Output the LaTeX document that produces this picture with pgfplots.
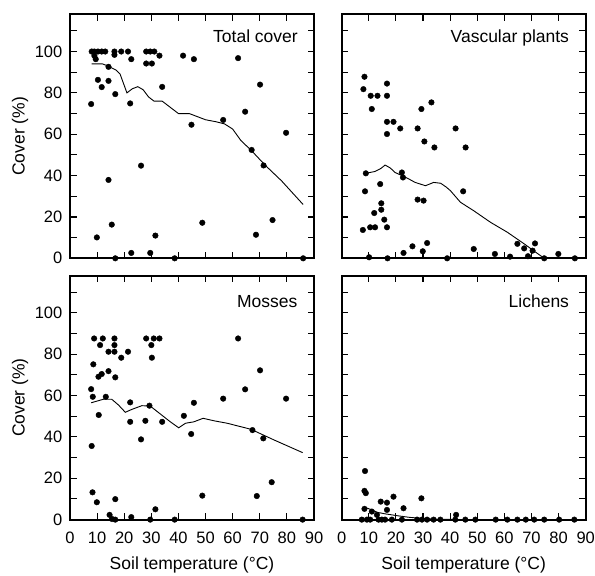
\documentclass[border=0pt]{standalone}
\usepackage{pgfplots}
\pgfplotsset{compat=1.18}
\usepgfplotslibrary{groupplots}
\usetikzlibrary{calc}
\usepackage{fontspec}
\setmainfont{Liberation Sans}
\tikzset{
  pts/.style={only marks, mark=*, mark size=2.8pt, black},
  fit/.style={no marks, black, line width=0.9pt},
  ttl/.style={font=\fontsize{17.5}{17.5}\selectfont, anchor=north east, inner sep=0pt},
}
\begin{document}
\begin{tikzpicture}
\begin{groupplot}[
  group style={group size=2 by 2, horizontal sep=27.7pt, vertical sep=17.3pt,
    xticklabels at=edge bottom, yticklabels at=edge left},
  scale only axis, width=244pt, height=244pt,
  xmin=0, xmax=90, ymin=0, ymax=118,
  xtick={0,10,...,90}, ytick={0,20,...,100}, minor ytick={10,30,...,110},
  tick align=inside, xtick pos=both, ytick pos=both,
  major tick length=6.5pt, minor tick length=6.5pt,
  every tick/.style={black, line width=1.1pt},
  axis line style={line width=1.8pt},
  tick label style={font=\fontsize{16.5}{16.5}\selectfont, inner sep=0pt},
  xticklabel style={anchor=north, yshift=-12pt},
  yticklabel style={anchor=east, xshift=-7.5pt},
  /pgf/number format/assume math mode=true,
  label style={font=\fontsize{17.5}{17.5}\selectfont, inner sep=0pt},
  xlabel style={at={(axis description cs:0.5,-0.1844)}, anchor=center},
  ylabel style={at={(axis description cs:-0.2049,0.5)}, anchor=center},
  clip=false,
]
% ---------------- Total cover
\nextgroupplot[ylabel={Cover (\%)}]
\addplot[pts] coordinates {
(8,100)(9,100)(10.3,100)(11.7,100)(13,100)(16.4,100)(18.9,100)(21.4,100)(28.1,100)(29.6,100)(31.1,100)(33,98)(41.7,98)
(9,97.9)(9.5,96.3)(16.4,98.4)(22.6,96.3)(28.1,94.2)(30.2,94.2)(45.7,96.3)(62,96.8)
(10.3,86.3)(14.2,85.8)(11.7,82.8)(14.2,92.6)(16.7,79.4)(7.8,74.6)(22.2,74.9)(34,82.9)(44.8,64.6)(70.1,84)(64.6,70.9)(56.5,66.9)(79.7,60.7)(67,52.4)(71.4,44.9)(14.2,37.9)(26.2,44.8)(9.9,10.1)(15.4,16.3)(31.5,11)(16.7,0)(22.6,2.6)(29.6,2.6)(38.6,0)(48.8,17.2)(74.7,18.5)(68.6,11.4)(86,0)
};
\addplot[fit] coordinates {
(8,94)(12,94)(14,93)(17,91)(18.5,89)(21,80)(23,82)(25,83)(27,81.5)(29,78)(31,76)(34,76)(37,73)(40,70)(42,70)(44,70)(47,68.5)(50,67)(54,66)(57,65)(60,62.5)(63,57)(67,52)(72,45)(78,37.5)(86,26)
};
\node[ttl] at (rel axis cs:1,1) [xshift=-16pt, yshift=-15.5pt] {Total cover};
% ---------------- Vascular plants
\nextgroupplot
\addplot[pts] coordinates {
(8.4,87.8)(8,81.8)(10.7,78.6)(13.2,78.6)(16.7,84.5)(16.7,78.6)(11.1,72.2)(33.1,75.4)(29.4,72.2)(16.7,66)(19.1,66)(21.6,62.8)(28,62.8)(16.7,60.1)(42,62.8)(30.5,56.5)(34.2,53.6)(8.9,41.1)(22.2,41.5)(22.6,39.1)(14.2,35.9)(8.6,32.4)(28,28.4)(30.2,27.9)(14.6,26.6)(14.6,23.5)(12,21.9)(15.7,18.7)(7.8,13.7)(10.5,15)(12.3,15)(16.7,15)(31.5,7.4)(26.1,5.8)(22.8,2.6)(29.9,3.4)(10.1,0.5)(16.9,0)(38.9,0)(45.7,53.6)(44.8,32.4)(48.7,4.5)(56.5,2.1)(62.1,0.8)(64.8,7)(67.3,4.8)(71.3,7.2)(70.4,3.7)(68.7,1)(74.7,0)(79.9,2.1)(86,0)
};
\addplot[fit] coordinates {
(8.9,41.1)(12.3,42)(14.5,43.5)(16,45.1)(17.9,43.7)(19.7,41.5)(22.2,40)(24.7,38.4)(27.1,36.7)(30.9,35.1)(33.9,36.7)(36.5,36.3)(38.5,34.5)(40.1,32.7)(43.8,27.1)(48.7,23)(54.9,17.4)(61.1,12.6)(67.3,7)(71.6,2.9)(74.7,0)
};
\node[ttl] at (rel axis cs:1,1) [xshift=-16.5pt, yshift=-15.5pt] {Vascular plants};
% ---------------- Mosses
\nextgroupplot[ylabel={Cover (\%)}, xlabel={Soil temperature (°C)}]
\addplot[pts] coordinates {
(8.9,87.6)(12.1,87.6)(16.4,87.6)(28.1,87.6)(30.9,87.6)(33,87.6)(11.1,84.4)(16.4,84.4)(30,84.4)(14.2,81.2)(16.4,81.2)(21.4,81.2)(18.9,78.3)(30.2,78.3)(8.6,75.1)(10.5,69.1)(11.7,70.4)(14.2,71.8)(16.7,68.8)(7.8,63.1)(62,87.6)(70.1,72.2)(64.6,63)(8.4,59.4)(13.2,59.4)(10.6,50.6)(22.2,56.7)(29.3,55.1)(22.2,47.3)(27.8,47.8)(26.2,38.8)(34,47.3)(42,50.2)(45.7,56.5)(44.7,41.4)(56.5,58.5)(67.3,43.3)(71.3,39.3)(79.7,58.5)(8,35.6)(8.3,13.2)(9.9,8.4)(16.7,9.9)(14.6,2.3)(15.5,0.3)(16.7,0)(22.6,1.2)(31.5,5)(29.6,0)(38.6,0)(48.8,11.6)(68.9,11.4)(74.4,18.1)(85.8,0)
};
\addplot[fit] coordinates {
(7.8,56.5)(12.3,58.2)(15.4,58.2)(17.9,55.4)(20.4,51.9)(22.8,53.3)(26.5,55.1)(29.6,54.9)(33.3,51.1)(37,47.3)(40.1,44.4)(42.6,46.6)(45.7,47.3)(49.1,49)(53.1,47.8)(58,46.6)(66.7,43.7)(75.3,38.5)(85.8,32.4)
};
\node[ttl] at (rel axis cs:1,1) [xshift=-16.5pt, yshift=-19.5pt] {Mosses};
% ---------------- Lichens
\nextgroupplot[xlabel={Soil temperature (°C)}]
\addplot[pts] coordinates {
(8.6,23.5)(8.4,13.9)(8.9,12.8)(14.4,8.7)(16.7,8.2)(19.1,11.1)(29.4,10.3)(22.8,5.5)(8.4,5.2)(16.7,4.7)(11.1,3.9)(13,2.3)(42.2,2.3)
(7.4,0)(9.3,0)(10.5,0)(13.6,0)(14.8,0)(16,0)(18.5,0)(22.2,0)(27.8,0)(29.6,0)(31.5,0)(33.9,0)(36.4,0)(41.9,0)(45.6,0)(49.3,0)(56.8,0)(61.1,0)(64.8,0)(67.9,0)(71,0)(74.7,0)(80.2,0)(85.8,0)
};
\addplot[fit] coordinates {
(8.4,6)(11,4.8)(13.2,3.5)(16,2.8)(21,1.8)(25,1.1)(29.4,0.6)(35,0.2)(45,0)
};
\node[ttl] at (rel axis cs:1,1) [xshift=-16.5pt, yshift=-19.5pt] {Lichens};
\end{groupplot}
\pgfresetboundingbox
\path[use as bounding box] ($(group c1r1.north west)+(-70pt,14.3pt)$) rectangle ($(group c2r2.south east)+(9.3pt,-56.3pt)$);
\end{tikzpicture}
\end{document}
